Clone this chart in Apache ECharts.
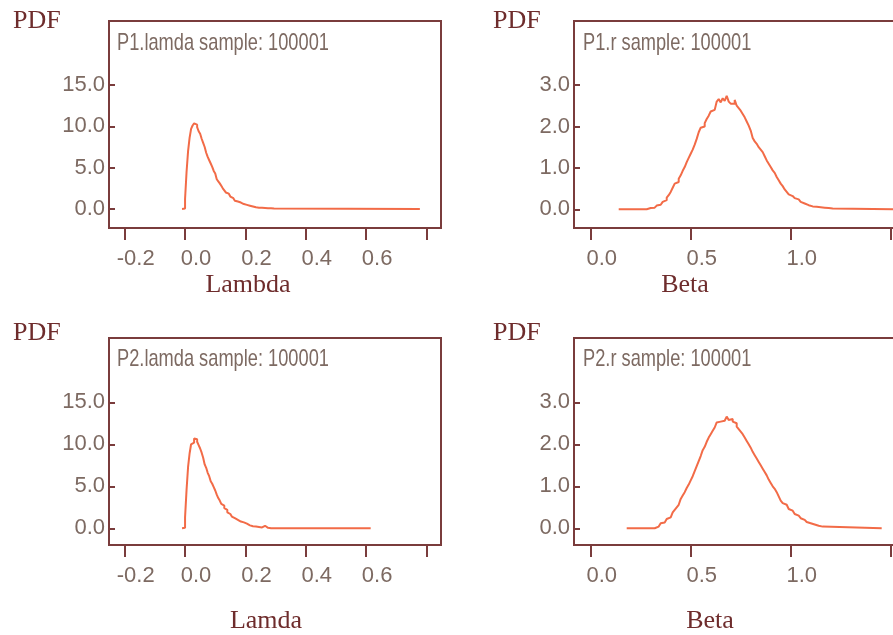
<!DOCTYPE html>
<html>
<head>
<meta charset="utf-8">
<script src="https://cdn.jsdelivr.net/npm/echarts@6/dist/echarts.min.js"></script>
<style>
  html, body { margin: 0; padding: 0; background: #fff; }
  #chart { width: 893px; height: 635px; }
</style>
</head>
<body>
<div id="chart"></div>
<script>
// histogram bins: left edge of first bin, bin width, density per bin, last x of flat tail
const lamStart = -0.010;
const lamBin = 0.005;
const lambda1 = [
  0, 0.05, 1.2, 4.5, 7.0, 8.6, 9.7, 10.1, 10.35, 10.2,
  9.9, 9.4, 9.1, 8.5, 8.0, 7.5, 6.8, 6.3, 5.9, 5.5,
  5.1, 4.6, 4.3, 3.6, 3.35, 3.1, 2.8, 2.5, 2.25, 2.0,
  1.85, 1.65, 1.5, 1.3, 1.1, 1.0, 0.9, 0.85, 0.78, 0.72,
  0.6, 0.55, 0.5, 0.45, 0.4, 0.38, 0.3, 0.3, 0.2, 0.18,
  0.16, 0.15, 0.14, 0.12, 0.12, 0.1, 0.1, 0.1, 0.08, 0.08,
  0.05, 0
];
const lambda1End = 0.778;

const lambda2 = [
  0, 0.05, 1.3, 4.6, 7.3, 8.9, 10.0, 10.2, 10.7, 10.6,
  10.3, 9.9, 9.5, 9.0, 8.4, 7.6, 7.2, 6.6, 6.2, 5.6,
  5.3, 4.9, 4.5, 4.0, 3.6, 3.3, 2.9, 2.7, 2.4, 2.2,
  1.9, 1.7, 1.5, 1.4, 1.2, 1.1, 1.0, 0.85, 0.8, 0.7,
  0.7, 0.65, 0.55, 0.42, 0.35, 0.3, 0.25, 0.22, 0.2, 0.18,
  0.15, 0.12, 0.1, 0.12, 0.3, 0.1, 0.05, 0.02, 0, 0,
  0, 0
];
const lambda2End = 0.615;

const betaBin = 0.01;
const beta1Start = 0.14;
const beta1 = [
  0, 0, 0, 0, 0, 0, 0, 0, 0, 0, 0, 0, 0, 0,
  0.03, 0.03, 0.04, 0.04, 0.07, 0.09, 0.11, 0.14, 0.18, 0.22,
  0.28, 0.34, 0.42, 0.52, 0.62, 0.66, 0.74, 0.82, 0.93, 1.02,
  1.14, 1.24, 1.34, 1.44, 1.56, 1.7, 1.86, 1.97, 2.0, 2.08,
  2.18, 2.26, 2.36, 2.4, 2.44, 2.6, 2.66, 2.58, 2.68, 2.62,
  2.74, 2.6, 2.55, 2.55, 2.64, 2.5, 2.44, 2.38, 2.3, 2.22,
  2.12, 2.02, 1.9, 1.72, 1.64, 1.58, 1.5, 1.44, 1.38, 1.28,
  1.18, 1.1, 1.02, 0.94, 0.88, 0.78, 0.7, 0.62, 0.56, 0.48,
  0.42, 0.36, 0.32, 0.3, 0.27, 0.24, 0.2, 0.18, 0.14, 0.12,
  0.1, 0.08, 0.07, 0.06, 0.06, 0.05, 0.05, 0.04, 0.04, 0.03,
  0.03, 0.02, 0.02, 0, 0
];
const beta1End = 1.6;

const beta2Start = 0.18;
const beta2 = [
  0, 0, 0, 0, 0, 0, 0, 0, 0, 0, 0, 0, 0, 0,
  0.04, 0.04, 0.08, 0.12, 0.14, 0.18, 0.22, 0.26, 0.3, 0.38,
  0.44, 0.5, 0.56, 0.7, 0.78, 0.86, 0.96, 1.04, 1.14, 1.24,
  1.36, 1.48, 1.6, 1.72, 1.86, 1.94, 2.06, 2.16, 2.24, 2.32,
  2.4, 2.52, 2.54, 2.54, 2.56, 2.58, 2.66, 2.58, 2.6, 2.54,
  2.5, 2.42, 2.36, 2.3, 2.24, 2.16, 2.08, 2.0, 1.92, 1.82,
  1.74, 1.66, 1.58, 1.5, 1.42, 1.34, 1.26, 1.16, 1.08, 1.0,
  0.94, 0.86, 0.76, 0.66, 0.6, 0.56, 0.52, 0.46, 0.42, 0.38,
  0.34, 0.3, 0.26, 0.24, 0.2, 0.18, 0.15, 0.12, 0.11, 0.09,
  0.08, 0.06, 0.05, 0.04, 0.02, 0
];
const beta2End = 1.455;

const lamTicks = [-0.2, 0, 0.2, 0.4, 0.6, 0.8];
const lamLabels = [-0.2, 0, 0.2, 0.4, 0.6];
const betaTicks = [0, 0.5, 1.0, 1.5];
const betaLabels = [0, 0.5, 1.0];
const lamYTicks = [0, 5, 10, 15];
const betaYTicks = [0, 1, 2, 3];

const titles = ["P1.lamda sample: 100001", "P1.r sample: 100001", "P2.lamda sample: 100001", "P2.r sample: 100001"];
const xNames = ["Lambda", "Beta", "Lamda", "Beta"];

const frameColor = "#7a3c3c";
const textColor = "#7d6a62";
const serifColor = "#6e2c2c";
const lineColor = "#f26b47";
const sans = "'Liberation Sans', Arial, sans-serif";
const serif = "'Liberation Serif', 'DejaVu Serif', serif";

function toSteps(start, bin, vals, end) {
  const pts = vals.map((v, i) => [+(start + i * bin).toFixed(4), v]);
  pts.push([end, 0]);
  return pts;
}

const grids = [
  { left: 109, top: 21, width: 332, height: 207 },
  { left: 574, top: 21, width: 332, height: 207 },
  { left: 109, top: 338, width: 332, height: 207 },
  { left: 574, top: 338, width: 332, height: 207 }
];

function xAxis(i, min, max, ticks, labels) {
  return {
    type: "value", gridIndex: i, min: min, max: max,
    axisLine: { show: false, onZero: false },
    splitLine: { show: false },
    axisTick: { show: true, inside: false, length: 12, customValues: ticks,
      lineStyle: { color: frameColor, width: 2 } },
    axisLabel: { customValues: labels, margin: 20, color: textColor, fontSize: 22,
      fontFamily: sans, padding: [0, 0, 0, 22],
      formatter: v => v.toFixed(1) }
  };
}

function yAxis(i, min, max, ticks) {
  return {
    type: "value", gridIndex: i, min: min, max: max,
    axisLine: { show: false, onZero: false },
    splitLine: { show: false },
    axisTick: { show: true, inside: true, length: 6, customValues: ticks,
      lineStyle: { color: frameColor, width: 2 } },
    axisLabel: { customValues: ticks, margin: 4, color: textColor, fontSize: 22,
      fontFamily: sans, formatter: v => v.toFixed(1) }
  };
}

function series(i, data) {
  return {
    type: "line", xAxisIndex: i, yAxisIndex: i, step: "end",
    showSymbol: false, symbol: "none", data: data,
    lineStyle: { color: lineColor, width: 2 }
  };
}

function txt(x, y, s, font, color, align, sx) {
  return { type: "text", x: x, y: y, scaleX: sx || 1,
    style: { text: s, font: font, fill: color, align: align || "left", verticalAlign: "middle" } };
}

const chart = echarts.init(document.getElementById("chart"), null, { renderer: "canvas" });
chart.setOption({
  animation: false,
  backgroundColor: "#ffffff",
  grid: grids.map(g => Object.assign({ show: true, borderColor: frameColor, borderWidth: 2,
    backgroundColor: "transparent", containLabel: false, outerBoundsMode: "none" }, g)),
  xAxis: [
    xAxis(0, -0.252, 0.848, lamTicks, lamLabels),
    xAxis(1, -0.0835, 1.5765, betaTicks, betaLabels),
    xAxis(2, -0.252, 0.848, lamTicks, lamLabels),
    xAxis(3, -0.0835, 1.5765, betaTicks, betaLabels)
  ],
  yAxis: [
    yAxis(0, -2.30, 22.74, lamYTicks),
    yAxis(1, -0.451, 4.545, betaYTicks),
    yAxis(2, -1.99, 22.65, lamYTicks),
    yAxis(3, -0.398, 4.531, betaYTicks)
  ],
  series: [
    series(0, toSteps(lamStart, lamBin, lambda1, lambda1End)),
    series(1, toSteps(beta1Start, betaBin, beta1, beta1End)),
    series(2, toSteps(lamStart, lamBin, lambda2, lambda2End)),
    series(3, toSteps(beta2Start, betaBin, beta2, beta2End))
  ],
  graphic: [
    txt(13, 21, "PDF", "26px " + serif, serifColor),
    txt(493, 21, "PDF", "26px " + serif, serifColor),
    txt(13, 333, "PDF", "26px " + serif, serifColor),
    txt(493, 333, "PDF", "26px " + serif, serifColor),
    txt(117, 43, titles[0], "24px " + sans, textColor, "left", 0.76),
    txt(583, 43, titles[1], "24px " + sans, textColor, "left", 0.76),
    txt(117, 359, titles[2], "24px " + sans, textColor, "left", 0.76),
    txt(583, 359, titles[3], "24px " + sans, textColor, "left", 0.76),
    txt(248, 285, xNames[0], "26px " + serif, serifColor, "center"),
    txt(685, 285, xNames[1], "26px " + serif, serifColor, "center"),
    txt(266, 621, xNames[2], "26px " + serif, serifColor, "center"),
    txt(710, 621, xNames[3], "26px " + serif, serifColor, "center")
  ]
});
</script>
</body>
</html>
